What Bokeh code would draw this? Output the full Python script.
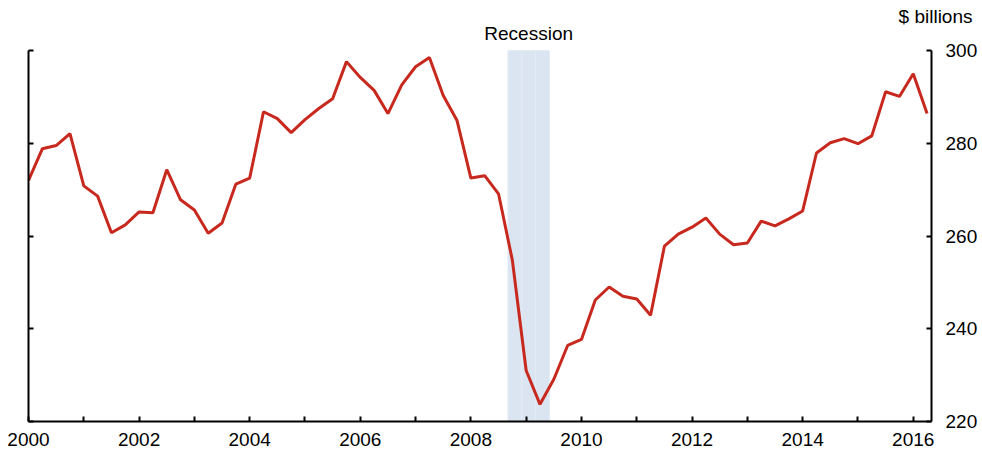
from bokeh.plotting import figure
from bokeh.models import LinearAxis, FixedTicker, Range1d, ColumnDataSource, Title, Label
from bokeh.embed import file_html
from bokeh.resources import INLINE

quarters = [f"{y}Q{q}" for y in range(2000, 2017) for q in range(1, 5)][:66]
values = [
    272.0, 278.8, 279.5, 282.1, 270.8, 268.6, 260.7, 262.4,
    265.2, 265.0, 274.3, 267.8, 265.6, 260.6, 262.8, 271.2,
    272.5, 286.8, 285.3, 282.3, 285.1, 287.5, 289.6, 297.6,
    294.2, 291.4, 286.4, 292.6, 296.5, 298.5, 290.3, 284.9,
    272.5, 273.0, 269.1, 254.8, 231.0, 223.7, 229.1, 236.4,
    237.7, 246.2, 249.0, 247.0, 246.4, 242.9, 257.8, 260.4,
    261.9, 263.9, 260.4, 258.1, 258.5, 263.2, 262.2, 263.7,
    265.4, 277.9, 280.1, 281.0, 279.9, 281.6, 291.1, 290.1,
    295.0, 286.4,
]
recession_left = [2008.67, 2008.92, 2009.17]
recession_right = [2008.92, 2009.17, 2009.42]
y_ticks = [220, 240, 260, 280, 300]
x_major = [2000, 2002, 2004, 2006, 2008, 2010, 2012, 2014, 2016]
x_minor = [2001, 2003, 2005, 2007, 2009, 2011, 2013, 2015]
Y_MIN, Y_MAX = 220, 300

def q_to_x(s):
    y, q = s.split("Q")
    return int(y) + (int(q) - 1) * 0.25

xs = [q_to_x(s) for s in quarters]
src = ColumnDataSource(dict(x=xs, y=values))

FONT = "Liberation Sans"
FS = "19px"
# frame spans from canvas y=24 to y=421; value 300 sits at y=50
y_top = Y_MAX + (Y_MAX - Y_MIN) * 26 / 371
p = figure(width=980, height=453, output_backend="svg", toolbar_location=None,
           x_range=Range1d(2000, 2016.33), y_range=Range1d(Y_MIN, y_top),
           y_axis_location="right", min_border_left=28, min_border_top=24,
           min_border_right=48, min_border_bottom=32)
p.outline_line_color = None
p.xgrid.visible = False
p.ygrid.visible = False
p.background_fill_color = "white"
p.border_fill_color = "white"

rec = ColumnDataSource(dict(left=recession_left, right=recession_right,
                            bottom=[Y_MIN] * 3, top=[Y_MAX] * 3))
p.quad(left="left", right="right", bottom="bottom", top="top", source=rec,
       fill_color="#dbe5f1", line_color="#e4ebf5", line_width=1)

p.line("x", "y", source=src, line_color="#c8291e", line_width=3)

left_ax = LinearAxis()
p.add_layout(left_ax, "left")

for ax in [p.yaxis[0], p.yaxis[1]]:
    ax.ticker = FixedTicker(ticks=y_ticks)
    ax.bounds = (Y_MIN, Y_MAX)
    ax.major_tick_in = 5
    ax.major_tick_out = 0
    ax.minor_tick_in = 0
    ax.minor_tick_out = 0
    ax.axis_line_width = 2
    ax.major_tick_line_width = 2
    ax.axis_line_color = "black"
    ax.major_tick_line_color = "black"
    ax.major_label_text_font = FONT
    ax.major_label_text_font_size = FS
    ax.major_label_text_color = "black"
    ax.major_label_standoff = 14

left_ax.major_label_overrides = {t: "" for t in y_ticks}
left_ax.major_label_standoff = 0

xa = p.xaxis[0]
xa.ticker = FixedTicker(ticks=x_major, minor_ticks=x_minor)
xa.major_tick_in = 5
xa.major_tick_out = 0
xa.minor_tick_in = 5
xa.minor_tick_out = 0
xa.axis_line_width = 2
xa.major_tick_line_width = 2
xa.minor_tick_line_width = 2
xa.minor_tick_line_color = "black"
xa.major_label_text_font = FONT
xa.major_label_text_font_size = FS
xa.major_label_text_color = "black"
xa.major_label_standoff = 11

p.add_layout(Label(x=(recession_left[0] + recession_right[-1]) / 2, y=Y_MAX,
                   y_offset=17, text="Recession", text_align="center",
                   text_baseline="alphabetic", text_font=FONT,
                   text_font_size=FS, text_color="black"))
p.add_layout(Title(text="$ billions", align="right", offset=-41, standoff=-4,
                   text_font=FONT, text_font_size=FS,
                   text_font_style="normal", text_color="black"), "above")

open("out.html", "w").write(file_html(p, INLINE))
